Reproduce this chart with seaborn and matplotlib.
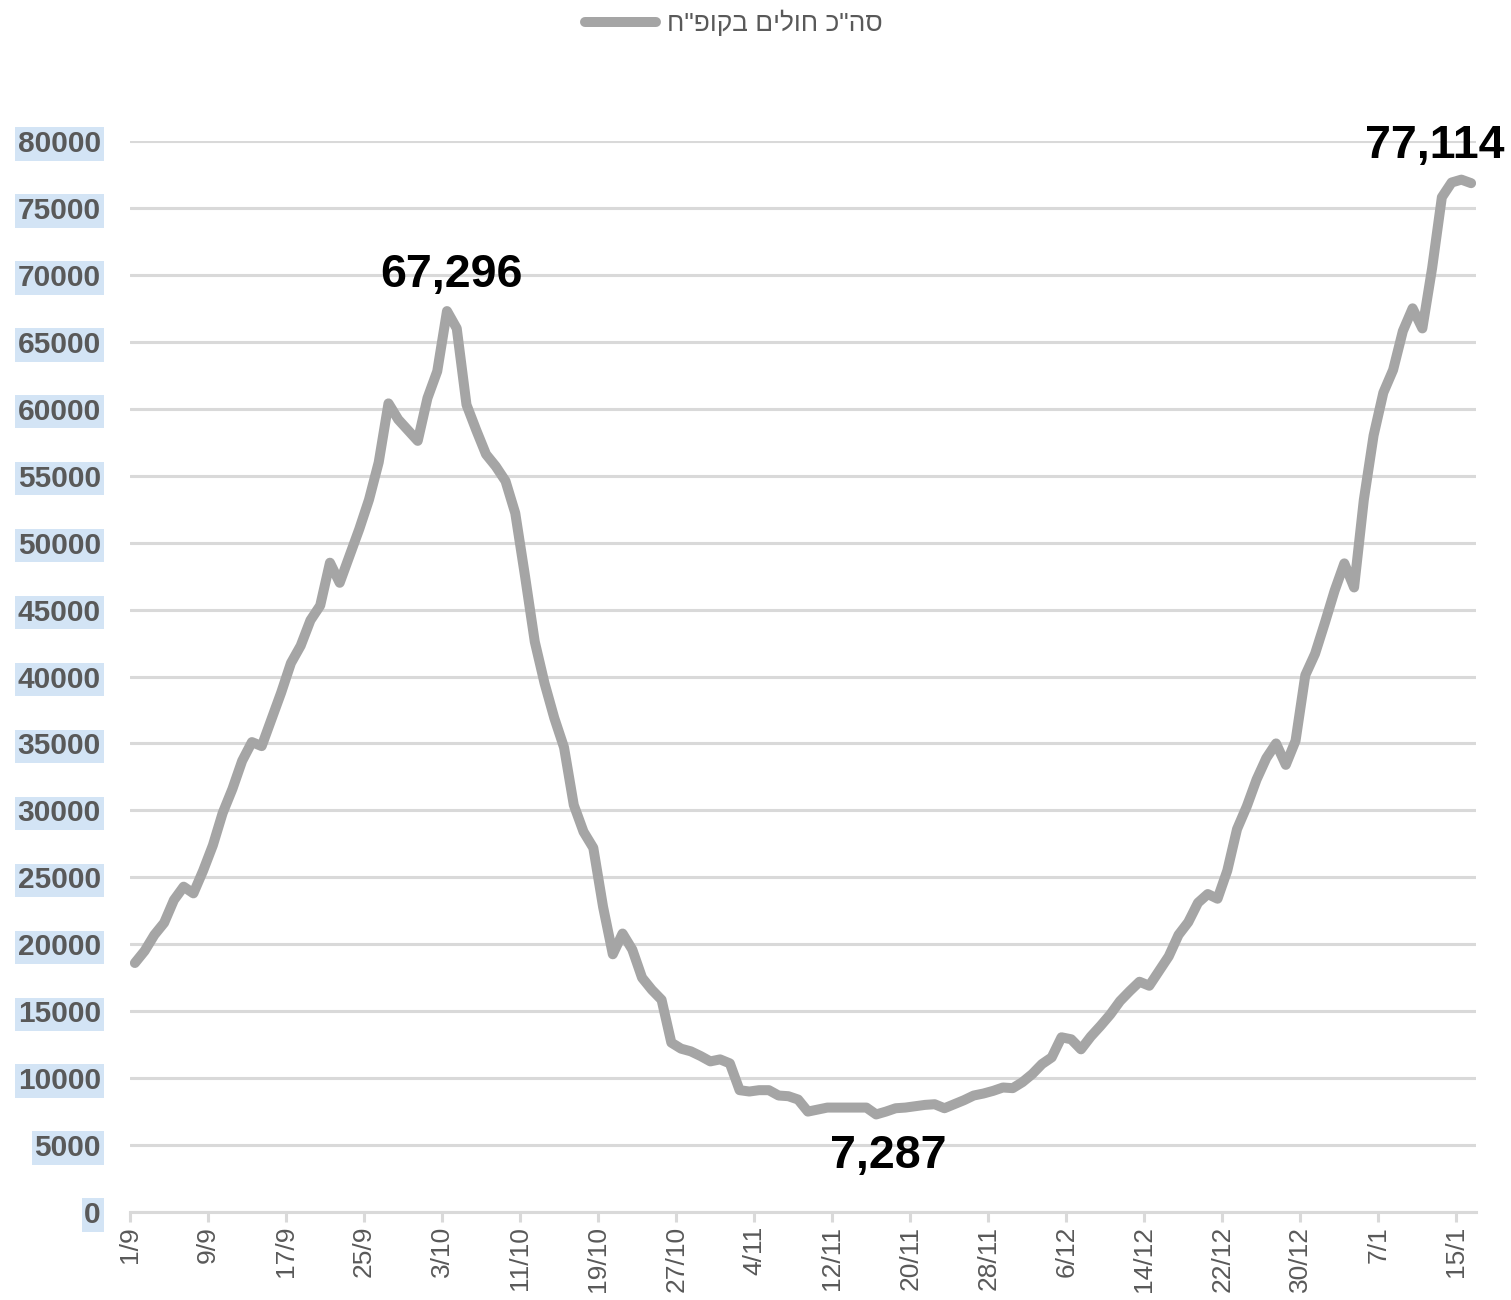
import numpy as np
import pandas as pd
import matplotlib
matplotlib.use("Agg")
import matplotlib.pyplot as plt
import seaborn as sns

# daily totals, 1/9 .. 16/1
start_date = "2021-09-01"
sick_total = [
    18600, 19500, 20700, 21600, 23300, 24300, 23800, 25500, 27400, 29800,
    31600, 33700, 35100, 34800, 36800, 38800, 41000, 42300, 44200, 45300,
    48500, 47000, 49000, 51000, 53200, 56000, 60400, 59200, 58400, 57600,
    60800, 62800, 67296, 66000, 60300, 58400, 56600, 55700, 54600, 52200,
    47500, 42600, 39500, 36900, 34700, 30400, 28400, 27200, 22800, 19250,
    20800, 19600, 17500, 16600, 15850, 12650, 12200, 12000, 11650, 11250,
    11400, 11100, 9100, 9000, 9100, 9100, 8700, 8650, 8400, 7500,
    7650, 7800, 7800, 7800, 7800, 7800, 7287, 7500, 7750, 7800,
    7900, 8000, 8050, 7750, 8050, 8350, 8700, 8850, 9050, 9300,
    9250, 9700, 10300, 11050, 11550, 13050, 12900, 12150, 13100, 13900,
    14750, 15750, 16500, 17200, 16900, 18000, 19100, 20700, 21650, 23100,
    23750, 23400, 25500, 28600, 30300, 32300, 33900, 35000, 33400, 35200,
    40100, 41700, 44000, 46400, 48450, 46650, 53200, 58000, 61200, 62900,
    65800, 67500, 66000, 70500, 75800, 76900, 77114, 76850,
]
series_label = 'סה"כ חולים בקופ"ח'
y_ticks = list(range(0, 80001, 5000))
tick_step = 8

dates = pd.date_range(start_date, periods=len(sick_total))
df = pd.DataFrame({"day": np.arange(len(sick_total)) + 0.5, "sick": sick_total})

sns.set_theme(style="whitegrid")
plt.rcParams['font.family'] = ['Liberation Sans', 'DejaVu Sans']

grey_txt = "#595959"
grid_c = "#d9d9d9"
line_c = "#a5a5a5"

fig = plt.figure(figsize=(15.11, 13), dpi=100)
ax = fig.add_axes([130 / 1511, 1 - 1212 / 1300, (1476 - 130) / 1511, (1212 - 141) / 1300])

# matplotlib has no bidi, so feed the hebrew label in visual order
sns.lineplot(data=df, x="day", y="sick", ax=ax, color=line_c, linewidth=7.2,
             label=series_label[::-1], solid_capstyle="round", solid_joinstyle="round")

ax.set_xlim(0, len(sick_total))
ax.set_ylim(0, 80000)
ax.set_xlabel("")
ax.set_ylabel("")

xt = list(range(0, len(sick_total), tick_step))
ax.set_xticks(xt)
ax.set_xticklabels([f"{dates[i].day}/{dates[i].month}" for i in xt],
                   rotation=90, fontsize=19, color=grey_txt, va="top")
ax.set_yticks(y_ticks)
ax.set_yticklabels([str(v) for v in y_ticks], fontsize=21.5, fontweight="bold", color=grey_txt)
for lab in ax.get_yticklabels():
    lab.set_bbox(dict(facecolor="#d3e4f5", edgecolor="none", pad=2))

ax.grid(axis="x", visible=False)
ax.grid(axis="y", color=grid_c, linewidth=2.2)
for s in ["top", "right", "left"]:
    ax.spines[s].set_visible(False)
ax.spines["bottom"].set_color(grid_c)
ax.spines["bottom"].set_linewidth(2.2)
ax.tick_params(axis="x", length=7, width=2.2, color=grid_c, pad=3, bottom=True)
ax.tick_params(axis="y", length=0, pad=21)

# value labels at first peak, trough and last peak
first_peak = int(np.argmax(sick_total[:60]))
trough = int(np.argmin(sick_total))
last_peak = int(np.argmax(sick_total))
for idx, off in [(first_peak, (3, 26)), (trough, (9, -30)), (last_peak, (-19, 24))]:
    ax.annotate(f"{sick_total[idx]:,}", xy=(df["day"][idx], sick_total[idx]),
                xytext=off, textcoords="offset points", ha="center", va="center",
                fontsize=33.5, fontweight="bold", color="black")

leg = ax.legend(loc="center", bbox_to_anchor=(734 / 1511, 1 - 23 / 1300),
                bbox_transform=fig.transFigure, frameon=False, fontsize=19,
                handlelength=2.7, handletextpad=0.4)
for t in leg.get_texts():
    t.set_color(grey_txt)

fig.savefig("out.png", dpi=100)
